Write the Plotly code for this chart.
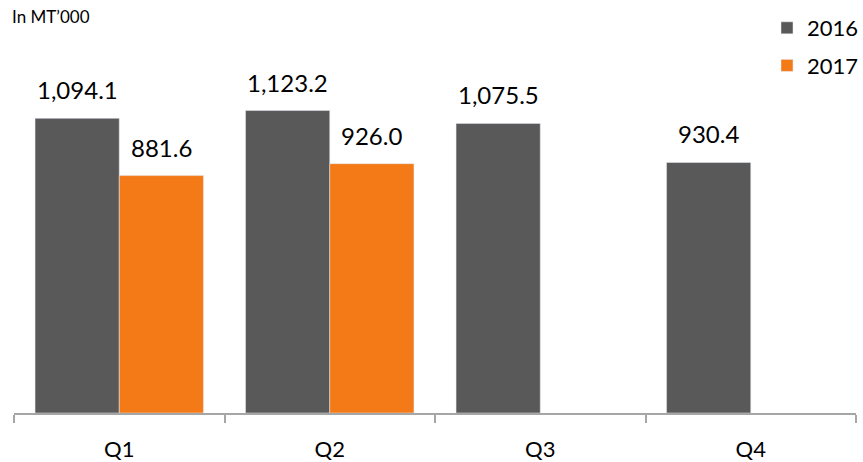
import plotly.graph_objects as go

# Quarterly volumes, in thousand metric tonnes
quarters = ["Q1", "Q2", "Q3", "Q4"]
vol_2016 = [1094.1, 1123.2, 1075.5, 930.4]
vol_2017 = [881.6, 926.0, None, None]

GRAY = "#595959"
ORANGE = "#F47A17"
AXIS = "#A6A6A6"
FONT = "Lato"

W, H = 863, 462
M_L, M_R, M_T, M_B = 14, 7, 36, 49
BARGAP = 0.2
plot_h = H - M_T - M_B

fig = go.Figure()
fig.add_bar(name="2016", x=quarters, y=vol_2016, marker_color=GRAY,
            legendgroup="a")
fig.add_bar(name="2017", x=quarters, y=vol_2017, marker_color=ORANGE,
            legendgroup="b")

# value labels above each bar, offset to the bar's slot within the group
cat_w = (W - M_L - M_R) / len(quarters)
half = cat_w * (1 - BARGAP) / 4
for vals, dx in ((vol_2016, -half), (vol_2017, half)):
    for q, v in zip(quarters, vals):
        if v is None:
            continue
        fig.add_annotation(x=q, y=v, text=f"{v:,.1f}", showarrow=False,
                           xshift=dx, yshift=12, yanchor="bottom",
                           font=dict(family=FONT, size=24, color="#000000"))

# unit note in the top-left corner (paper y above 1 reaches into the margin)
fig.add_annotation(text="In MT\u2019000", xref="paper", yref="paper",
                   x=-4 / (W - M_L - M_R), y=(plot_h + M_T - 4) / plot_h,
                   xanchor="left", yanchor="top", showarrow=False,
                   font=dict(family=FONT, size=17, color="#000000"))

fig.update_layout(
    width=W, height=H,
    margin=dict(l=M_L, r=M_R, t=M_T, b=M_B, autoexpand=False),
    barmode="group", bargap=BARGAP, bargroupgap=0,
    plot_bgcolor="white", paper_bgcolor="white",
    font=dict(family=FONT, color="#000000"),
    legend=dict(xref="container", yref="container",
                x=767 / W, y=1 - 7 / H, xanchor="left", yanchor="top",
                font=dict(family=FONT, size=22),
                tracegroupgap=6, bgcolor="rgba(0,0,0,0)"),
    xaxis=dict(showline=True, linecolor=AXIS, linewidth=2,
               ticks="outside", tickson="boundaries", ticklen=8,
               tickcolor=AXIS, tickwidth=2, ticklabelstandoff=16,
               tickfont=dict(family=FONT, size=22)),
    yaxis=dict(range=[0, 1400], visible=False, showgrid=False),
)

fig.write_html("out.html")
